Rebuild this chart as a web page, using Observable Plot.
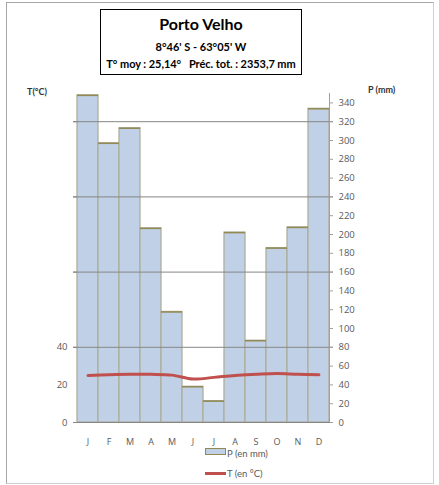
<!DOCTYPE html>
<html>
<head>
<meta charset="utf-8">
<script src="https://cdn.jsdelivr.net/npm/d3@7"></script>
<script src="https://cdn.jsdelivr.net/npm/@observablehq/plot@0.6"></script>
<style>
  html, body { margin: 0; padding: 0; background: #fff; }
  #wrap { position: relative; width: 439px; height: 485px; overflow: hidden; font-family: "Liberation Sans Narrow", "Open Sans", "Lato", sans-serif; }
  #frame { position: absolute; left: 6px; top: 2px; width: 426px; height: 480px; border-left: 1px solid #a6a6a6; border-top: 1px solid #a6a6a6; border-right: 1px solid #d0d0d0; border-bottom: 1px solid #d0d0d0; }
  #chart { position: absolute; left: 0; top: 0; }
  #titlebox { position: absolute; left: 100px; top: 9px; width: 200px; height: 64px; border: 1px solid #000; background: #fff; text-align: center; font-family: "Lato", "Open Sans", sans-serif; font-weight: bold; color: #000; }
  #t1 { position: absolute; left: 0; right: 0; top: 4px; font-size: 16px; line-height: 20px; }
  #t2 { position: absolute; left: 0; right: 0; top: 30px; font-size: 11px; line-height: 14px; }
  #t3 { position: absolute; left: 0; right: 0; top: 47px; font-size: 11px; line-height: 14px; letter-spacing: -0.05px; white-space: nowrap; }
  .axt { position: absolute; font-size: 9px; color: #333; font-weight: bold; font-family: "Lato", "Open Sans", sans-serif; white-space: nowrap; }
  .leg { position: absolute; font-size: 9.5px; line-height: 11px; color: #595959; font-family: "Lato", "Open Sans", sans-serif; white-space: nowrap; }
  .sw { position: absolute; }
</style>
</head>
<body>
<div id="wrap">
  <div id="frame"></div>
  <div id="chart"></div>
  <div id="titlebox">
    <div id="t1">Porto Velho</div>
    <div id="t2">8°46' S - 63°05' W</div>
    <div id="t3">T° moy : 25,14°&nbsp;&nbsp; Préc. tot. : 2353,7 mm</div>
  </div>
  <div class="axt" style="left:27px; top:86px;">T(°C)</div>
  <div class="axt" style="left:368px; top:84px;">P (mm)</div>
  <div class="sw" style="left:205px; top:448px; width:19px; height:5px; background:#c0d1e7; border:1px solid #938953;"></div>
  <div class="leg" style="left:227px; top:448px;">P (en mm)</div>
  <div class="sw" style="left:205px; top:472px; width:21px; height:3px; background:#c0504d;"></div>
  <div class="leg" style="left:227px; top:468px;">T (en °C)</div>
</div>
<script>
const months = ["J", "F", "M", "A", "M", "J", "J", "A", "S", "O", "N", "D"];
const precip = [348, 297, 313, 206.5, 117.6, 38, 22.7, 202, 87, 185.5, 207.5, 333.7];
const temp = [25.05, 25.4, 25.6, 25.6, 25.2, 23.1, 24.0, 25.05, 25.6, 26.0, 25.6, 25.4];
const rightTicks = d3.range(0, 341, 20);
const gridTicksMm = [80, 160, 240, 320];
const leftTicksMm = [0, 80, 160, 240, 320];

const rows = months.map((m, i) => ({i, m, p: precip[i], t: temp[i]}));
const tempRatio = 2; // 1 °C = 2 mm

const chart = Plot.plot({
  width: 439,
  height: 485,
  marginLeft: 77,
  marginRight: 110,
  marginTop: 93,
  marginBottom: 63,
  x: {domain: [0, 12], axis: null},
  y: {domain: [0, 350], axis: null},
  style: {fontFamily: "'Liberation Sans Narrow', 'Open Sans', sans-serif", fontSize: "9.5px", color: "#595959", background: "transparent", overflow: "visible"},
  marks: [
    Plot.rectY(rows, {x1: d => d.i, x2: d => d.i + 1, y: "p", fill: "#c0d1e7", stroke: "#aeae9c", strokeWidth: 1.3}),
    Plot.ruleY(rows, {x1: d => d.i, x2: d => d.i + 1, y: "p", stroke: "#938953", strokeWidth: 1.5}),
    Plot.ruleY(gridTicksMm, {x1: -0.19, x2: 12.19, stroke: "#868686", strokeWidth: 1}),
    Plot.ruleY([0], {x1: -0.19, x2: 12.19, stroke: "#868686", strokeWidth: 1}),
    Plot.ruleX([12], {y1: 0, y2: 350, stroke: "#a0a0a0", strokeWidth: 1}),
    Plot.line(rows, {x: d => d.i + 0.5, y: d => d.t * tempRatio, stroke: "#c0504d", strokeWidth: 3, curve: "catmull-rom"}),
    Plot.axisY({anchor: "right", label: null, ticks: rightTicks, tickSize: 3, tickPadding: 6, stroke: "#a0a0a0", tickFormat: d => String(d)}),
    Plot.axisY({anchor: "left", label: null, ticks: leftTicksMm, tickSize: 4, tickPadding: 6, stroke: "#868686", tickFormat: d => (d === 0 ? "0" : d === 80 ? String(80 / tempRatio) : "")}),
    Plot.axisY({anchor: "left", label: null, ticks: [40], tickSize: 0, tickPadding: 10, tickFormat: d => String(d / tempRatio)}),
    Plot.text(rows, {x: d => d.i + 0.5, y: 0, text: "m", dy: 20, fill: "#595959", fontSize: 9})
  ]
});
document.getElementById("chart").appendChild(chart);
</script>
</body>
</html>
